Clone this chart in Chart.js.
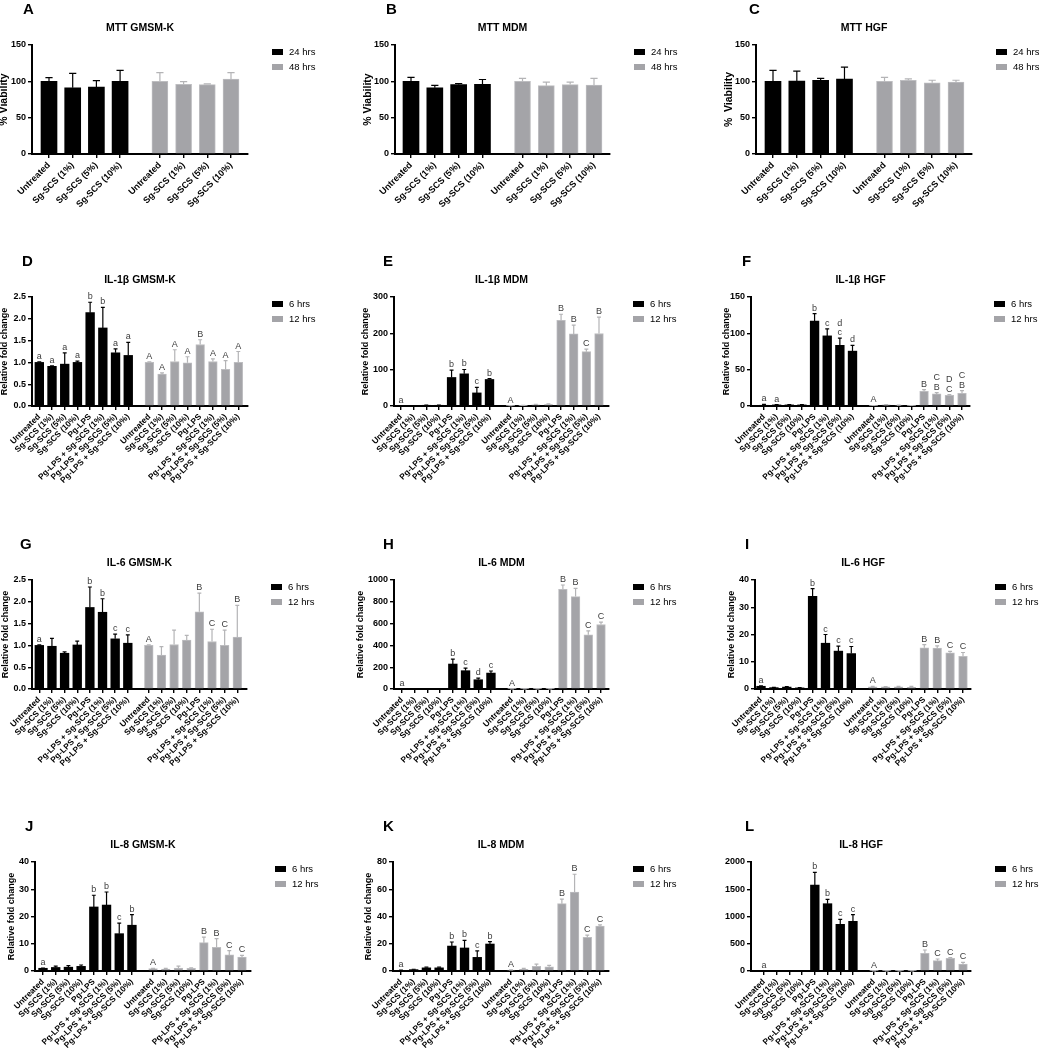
<!DOCTYPE html>
<html>
<head>
<meta charset="utf-8">
<script src="https://cdn.jsdelivr.net/npm/chart.js@4.4.1/dist/chart.umd.min.js"></script>
<style>
  html, body { margin: 0; padding: 0; background: #fff; }
  #fig { position: relative; width: 1039px; height: 1050px; overflow: hidden; background: #fff; }
  #fig canvas { position: absolute; }
</style>
</head>
<body>
<div id="fig"></div>
<script>
// --- categories / series names ---
const mttLabels = ['Untreated', 'Sg-SCS (1%)', 'Sg-SCS (5%)', 'Sg-SCS (10%)'];
const cytoLabels = ['Untreated', 'Sg-SCS (1%)', 'Sg-SCS (5%)', 'Sg-SCS (10%)', 'Pg-LPS',
  'Pg-LPS + Sg-SCS (1%)', 'Pg-LPS + Sg-SCS (5%)', 'Pg-LPS + Sg-SCS (10%)'];
const mttSeries = ['24 hrs', '48 hrs'];
const cytoSeries = ['6 hrs', '12 hrs'];

// --- A: MTT GMSM-K (mean, SD) ---
const mttGmsmk24h = [100, 91, 92, 100];
const mttGmsmk24hSd = [5, 20, 9, 15];
const mttGmsmk48h = [100, 96, 95.5, 103];
const mttGmsmk48hSd = [12, 3.5, 1, 9];

// --- B: MTT MDM ---
const mttMdm24h = [100, 91, 95.5, 96];
const mttMdm24hSd = [5.5, 3.5, 1.5, 6.5];
const mttMdm48h = [100, 94, 95.5, 95];
const mttMdm48hSd = [4, 5, 3.5, 9];

// --- C: MTT HGF ---
const mttHgf24h = [100, 100.5, 101.5, 103];
const mttHgf24hSd = [15, 13.5, 2.5, 16.5];
const mttHgf48h = [100, 101.5, 98, 99];
const mttHgf48hSd = [5.5, 2, 3.5, 2.5];

// --- D: IL-1b GMSM-K ---
const il1bGmsmk6h = [1.0, 0.91, 0.96, 1.0, 2.14, 1.79, 1.22, 1.16];
const il1bGmsmk6hSd = [0.01, 0.01, 0.26, 0.03, 0.24, 0.47, 0.09, 0.30];
const il1bGmsmk6hSig = ['a', 'a', 'a', 'a', 'b', 'b', 'a', 'a'];
const il1bGmsmk12h = [1.0, 0.73, 1.02, 0.99, 1.41, 1.02, 0.84, 1.0];
const il1bGmsmk12hSd = [0.01, 0.03, 0.27, 0.14, 0.11, 0.06, 0.2, 0.25];
const il1bGmsmk12hSig = ['A', 'A', 'A', 'A', 'B', 'A', 'A', 'A'];

// --- E: IL-1b MDM ---
const il1bMdm6h = [1, 0.6, 2, 2, 78.5, 88.5, 36, 73];
const il1bMdm6hSd = [0.3, 0.3, 0.8, 0.8, 20, 12, 15.5, 2.5];
const il1bMdm6hSig = ['a', '', '', '', 'b', 'b', 'c', 'b'];
const il1bMdm12h = [1, 1.2, 3.5, 4, 235.5, 198.5, 149.5, 199.5];
const il1bMdm12hSd = [0.3, 0.4, 1.2, 1.8, 17, 24, 7, 45];
const il1bMdm12hSig = ['A', '', '', '', 'B', 'B', 'C', 'B'];

// --- F: IL-1b HGF ---
const il1bHgf6h = [1, 1.5, 1.5, 1.5, 117, 96.5, 83.5, 75.5];
const il1bHgf6hSd = [1.2, 0.5, 0.5, 0.4, 10, 9.5, 10, 8];
const il1bHgf6hSig = ['a', 'a', '', '', 'b', 'c', 'd\nc', 'd'];
const il1bHgf12h = [0.5, 1.5, 1, 0.5, 20.3, 16.6, 14.8, 17.5];
const il1bHgf12hSd = [0.2, 0.4, 0.3, 0.2, 2.3, 1.9, 0.9, 3.7];
const il1bHgf12hSig = ['A', '', '', '', 'B', 'C\nB', 'D\nC', 'C\nB'];

// --- G: IL-6 GMSM-K ---
const il6Gmsmk6h = [1.0, 0.98, 0.82, 1.01, 1.87, 1.76, 1.15, 1.05];
const il6Gmsmk6hSd = [0.01, 0.18, 0.03, 0.09, 0.47, 0.31, 0.11, 0.19];
const il6Gmsmk6hSig = ['a', '', '', '', 'b', 'b', 'c', 'c'];
const il6Gmsmk12h = [1.0, 0.78, 1.02, 1.12, 1.77, 1.09, 1.0, 1.19];
const il6Gmsmk12hSd = [0.01, 0.19, 0.33, 0.11, 0.43, 0.28, 0.35, 0.73];
const il6Gmsmk12hSig = ['A', '', '', '', 'B', 'C', 'C', 'B'];

// --- H: IL-6 MDM ---
const il6Mdm6h = [1, 1, 1, 1, 229, 168, 85, 146];
const il6Mdm6hSd = [1, 1, 1, 1, 45, 24, 15, 19];
const il6Mdm6hSig = ['a', '', '', '', 'b', 'c', 'd', 'c'];
const il6Mdm12h = [1, 1, 1, 1, 915, 848, 497, 592];
const il6Mdm12hSd = [1, 1, 1, 1, 39, 76, 37, 21];
const il6Mdm12hSig = ['A', '', '', '', 'B', 'B', 'C', 'C'];

// --- I: IL-6 HGF ---
const il6Hgf6h = [1.0, 0.5, 0.7, 0.4, 34.0, 16.8, 13.9, 13.0];
const il6Hgf6hSd = [0.2, 0.1, 0.2, 0.1, 2.8, 3.2, 1.8, 2.6];
const il6Hgf6hSig = ['a', '', '', '', 'b', 'c', 'c', 'c'];
const il6Hgf12h = [0.8, 0.8, 0.8, 0.6, 15.1, 15.0, 13.3, 12.0];
const il6Hgf12hSd = [0.2, 0.1, 0.2, 0.4, 1.2, 0.8, 0.5, 1.4];
const il6Hgf12hSig = ['A', '', '', '', 'B', 'B', 'C', 'C'];

// --- J: IL-8 GMSM-K ---
const il8Gmsmk6h = [1.0, 1.3, 1.4, 1.7, 23.5, 24.2, 13.7, 16.8];
const il8Gmsmk6hSd = [0.1, 0.5, 0.6, 0.5, 4.3, 4.8, 3.9, 3.9];
const il8Gmsmk6hSig = ['a', '', '', '', 'b', 'b', 'c', 'b'];
const il8Gmsmk12h = [0.9, 0.7, 1.1, 1.0, 10.4, 8.7, 5.9, 5.1];
const il8Gmsmk12hSd = [0.1, 0.3, 0.7, 0.2, 2.0, 3.2, 1.6, 0.6];
const il8Gmsmk12hSig = ['A', '', '', '', 'B', 'B', 'C', 'C'];

// --- K: IL-8 MDM ---
const il8Mdm6h = [0.5, 1.0, 2.3, 2.3, 18.3, 16.9, 10.0, 19.8];
const il8Mdm6hSd = [0.2, 0.3, 0.5, 0.5, 3.0, 5.6, 4.7, 1.7];
const il8Mdm6hSig = ['a', '', '', '', 'b', 'b', 'c', 'b'];
const il8Mdm12h = [0.6, 1.3, 3.5, 3.1, 49.4, 58.0, 24.7, 33.0];
const il8Mdm12hSd = [0.2, 0.7, 1.5, 1.1, 3.4, 13, 1.7, 0.8];
const il8Mdm12hSig = ['A', '', '', '', 'B', 'B', 'C', 'C'];

// --- L: IL-8 HGF ---
const il8Hgf6h = [1, 1, 1, 1, 1578, 1235, 856, 911];
const il8Hgf6hSd = [1, 1, 1, 1, 232, 80, 92, 123];
const il8Hgf6hSig = ['a', '', '', '', 'b', 'b', 'c', 'c'];
const il8Hgf12h = [1, 1, 1, 1, 324, 190, 232, 128];
const il8Hgf12hSd = [1, 1, 1, 1, 61, 30, 13, 31];
const il8Hgf12hSig = ['A', '', '', '', 'B', 'C', 'C', 'C'];

const FONT = '"Liberation Sans", Arial, Helvetica, sans-serif';
const GREY = '#a4a4a8';

// panel layout: box = canvas [left, top, w, h], area = plot [left, top, right, bottom], bars = first/last bar centre
const panels = [
  { letter: 'A', letterX: 23, title: 'MTT GMSM-K', yTitle: '% Viability', yTitleX: 4, labels: mttLabels, series: mttSeries,
    v1: mttGmsmk24h, e1: mttGmsmk24hSd, v2: mttGmsmk48h, e2: mttGmsmk48hSd, yMax: 150, yStep: 50, dec: 0,
    box: [0, 0, 346, 240], area: [32, 45, 248, 154], bars: [49, 231] },
  { letter: 'B', letterX: 386, title: 'MTT MDM', yTitle: '% Viability', yTitleX: 368, labels: mttLabels, series: mttSeries,
    v1: mttMdm24h, e1: mttMdm24hSd, v2: mttMdm48h, e2: mttMdm48hSd, yMax: 150, yStep: 50, dec: 0,
    box: [346, 0, 346, 240], area: [395, 45, 610, 154], bars: [411, 594] },
  { letter: 'C', letterX: 749, title: 'MTT HGF', yTitle: '%  Viability', yTitleX: 729, labels: mttLabels, series: mttSeries,
    v1: mttHgf24h, e1: mttHgf24hSd, v2: mttHgf48h, e2: mttHgf48hSd, yMax: 150, yStep: 50, dec: 0,
    box: [692, 0, 347, 240], area: [756, 45, 972, 154], bars: [773, 956] },

  { letter: 'D', letterX: 22, title: 'IL-1β GMSM-K', yTitle: 'Relative fold change', yTitleX: 5, labels: cytoLabels, series: cytoSeries,
    v1: il1bGmsmk6h, e1: il1bGmsmk6hSd, s1: il1bGmsmk6hSig, v2: il1bGmsmk12h, e2: il1bGmsmk12hSd, s2: il1bGmsmk12hSig,
    yMax: 2.5, yStep: 0.5, dec: 1, box: [0, 240, 346, 260], area: [32, 297, 248, 406], bars: [39.3, 238.3] },
  { letter: 'E', letterX: 383, title: 'IL-1β MDM', yTitle: 'Relative fold change', yTitleX: 366, labels: cytoLabels, series: cytoSeries,
    v1: il1bMdm6h, e1: il1bMdm6hSd, s1: il1bMdm6hSig, v2: il1bMdm12h, e2: il1bMdm12hSd, s2: il1bMdm12hSig,
    yMax: 300, yStep: 100, dec: 0, box: [346, 240, 346, 260], area: [394, 297, 609, 406], bars: [401, 599] },
  { letter: 'F', letterX: 742, title: 'IL-1β HGF', yTitle: 'Relative fold change', yTitleX: 727, labels: cytoLabels, series: cytoSeries,
    v1: il1bHgf6h, e1: il1bHgf6hSd, s1: il1bHgf6hSig, v2: il1bHgf12h, e2: il1bHgf12hSd, s2: il1bHgf12hSig,
    yMax: 150, yStep: 50, dec: 0, box: [692, 240, 347, 260], area: [751, 297, 970, 406], bars: [764, 962] },

  { letter: 'G', letterX: 20, title: 'IL-6 GMSM-K', yTitle: 'Relative fold change', yTitleX: 6, labels: cytoLabels, series: cytoSeries,
    v1: il6Gmsmk6h, e1: il6Gmsmk6hSd, s1: il6Gmsmk6hSig, v2: il6Gmsmk12h, e2: il6Gmsmk12hSd, s2: il6Gmsmk12hSig,
    yMax: 2.5, yStep: 0.5, dec: 1, box: [0, 500, 346, 268], area: [32, 580, 247, 689], bars: [39.3, 237.3] },
  { letter: 'H', letterX: 383, title: 'IL-6 MDM', yTitle: 'Relative fold change', yTitleX: 361, labels: cytoLabels, series: cytoSeries,
    v1: il6Mdm6h, e1: il6Mdm6hSd, s1: il6Mdm6hSig, v2: il6Mdm12h, e2: il6Mdm12hSd, s2: il6Mdm12hSig,
    yMax: 1000, yStep: 200, dec: 0, box: [346, 500, 346, 268], area: [394, 580, 609, 689], bars: [402, 601] },
  { letter: 'I', letterX: 745, title: 'IL-6 HGF', yTitle: 'Relative fold change', yTitleX: 732, labels: cytoLabels, series: cytoSeries,
    v1: il6Hgf6h, e1: il6Hgf6hSd, s1: il6Hgf6hSig, v2: il6Hgf12h, e2: il6Hgf12hSd, s2: il6Hgf12hSig,
    yMax: 40, yStep: 10, dec: 0, box: [692, 500, 347, 268], area: [755, 580, 971, 689], bars: [761, 963] },

  { letter: 'J', letterX: 25, title: 'IL-8 GMSM-K', yTitle: 'Relative fold change', yTitleX: 12, labels: cytoLabels, series: cytoSeries,
    v1: il8Gmsmk6h, e1: il8Gmsmk6hSd, s1: il8Gmsmk6hSig, v2: il8Gmsmk12h, e2: il8Gmsmk12hSd, s2: il8Gmsmk12hSig,
    yMax: 40, yStep: 10, dec: 0, box: [0, 760, 346, 290], area: [35, 862, 251, 971], bars: [43, 242] },
  { letter: 'K', letterX: 383, title: 'IL-8 MDM', yTitle: 'Relative fold change', yTitleX: 369, labels: cytoLabels, series: cytoSeries,
    v1: il8Mdm6h, e1: il8Mdm6hSd, s1: il8Mdm6hSig, v2: il8Mdm12h, e2: il8Mdm12hSd, s2: il8Mdm12hSig,
    yMax: 80, yStep: 20, dec: 0, box: [346, 760, 346, 290], area: [393, 862, 609, 971], bars: [401, 600] },
  { letter: 'L', letterX: 745, title: 'IL-8 HGF', yTitle: '', yTitleX: 0, labels: cytoLabels, series: cytoSeries,
    v1: il8Hgf6h, e1: il8Hgf6hSd, s1: il8Hgf6hSig, v2: il8Hgf12h, e2: il8Hgf12hSd, s2: il8Hgf12hSig,
    yMax: 2000, yStep: 500, dec: 0, box: [692, 760, 347, 290], area: [751, 862, 971, 971], bars: [764, 963] }
];

// error bars (mean + SD, upward only) and significance letters
const errorBarPlugin = {
  id: 'errorBars',
  afterDatasetsDraw(chart) {
    const ctx = chart.ctx;
    const yScale = chart.scales.y;
    chart.data.datasets.forEach((ds, di) => {
      const meta = chart.getDatasetMeta(di);
      meta.data.forEach((bar, i) => {
        const top = yScale.getPixelForValue(ds.data[i].y + ds.sd[i]);
        const half = ds.capWidth / 2;
        ctx.save();
        ctx.strokeStyle = ds.errColor;
        ctx.lineWidth = 1.2;
        ctx.beginPath();
        ctx.moveTo(bar.x, bar.y);
        ctx.lineTo(bar.x, top);
        ctx.moveTo(bar.x - half, top);
        ctx.lineTo(bar.x + half, top);
        ctx.stroke();
        const sig = ds.sig ? ds.sig[i] : '';
        if (sig) {
          ctx.fillStyle = '#3c3c3c';
          ctx.font = '9px ' + FONT;
          ctx.textAlign = 'center';
          ctx.textBaseline = 'alphabetic';
          sig.split('\n').reverse().forEach((s, k) => ctx.fillText(s, bar.x, top - 3 - k * 9.5));
        }
        ctx.restore();
      });
    });
  }
};

// panel letter + legend on the right
const decorPlugin = {
  id: 'decor',
  afterDraw(chart, args, opts) {
    const { ctx, chartArea } = chart;
    ctx.save();
    ctx.fillStyle = '#000';
    ctx.font = 'bold 15px ' + FONT;
    ctx.textAlign = 'left';
    ctx.textBaseline = 'alphabetic';
    ctx.fillText(opts.letter, opts.letterX, chartArea.top - 31.5);
    ctx.font = '9.5px ' + FONT;
    ctx.textBaseline = 'middle';
    chart.data.datasets.forEach((ds, i) => {
      const x = chartArea.right + 24;
      const y = chartArea.top + 7 + i * 15;
      ctx.fillStyle = ds.backgroundColor;
      ctx.fillRect(x, y - 3, 11, 6);
      ctx.fillStyle = '#000';
      ctx.fillText(ds.label, x + 17, y);
    });
    ctx.restore();
  }
};

const fig = document.getElementById('fig');

panels.forEach(p => {
  const [cx, cy, cw, ch] = p.box;
  const [L, T, R, B] = p.area;
  const canvas = document.createElement('canvas');
  canvas.width = cw;
  canvas.height = ch;
  canvas.style.left = cx + 'px';
  canvas.style.top = cy + 'px';
  fig.appendChild(canvas);

  const n = p.labels.length;
  const big = n === 4;
  const gap = big ? 1.68 : 1.66;
  const pos1 = p.labels.map((_, i) => i);
  const pos2 = p.labels.map((_, i) => n - 1 + gap + i);
  const lastPos = pos2[n - 1];
  const slot = (p.bars[1] - p.bars[0]) / lastPos;
  const xMin = -(p.bars[0] - L) / slot;
  const xMax = lastPos + (R - p.bars[1]) / slot;
  const tickPos = pos1.concat(pos2);
  const tickText = p.labels.concat(p.labels);
  const thick = big ? 16 : 8.7;

  const titleSize = 10.5;
  const titleLH = titleSize * 1.2;
  const tPadTop = (T - 17 - cy) - titleLH / 2;
  const tPadBottom = (T - cy) - tPadTop - titleLH;
  const yTitleSize = big ? 10.5 : 9;

  new Chart(canvas, {
    type: 'bar',
    data: {
      datasets: [
        {
          label: p.series[0],
          data: pos1.map((x, i) => ({ x: x, y: p.v1[i] })),
          sd: p.e1, sig: p.s1,
          backgroundColor: '#000000', borderWidth: 0,
          errColor: '#000000', capWidth: thick * 0.45,
          barThickness: thick, grouped: false
        },
        {
          label: p.series[1],
          data: pos2.map((x, i) => ({ x: x, y: p.v2[i] })),
          sd: p.e2, sig: p.s2,
          backgroundColor: GREY, borderColor: '#bdbdc0', borderWidth: 1,
          errColor: '#b4b4b6', capWidth: thick * 0.45,
          barThickness: thick, grouped: false
        }
      ]
    },
    options: {
      responsive: false,
      animation: false,
      devicePixelRatio: 1,
      layout: { padding: { left: 0, top: 0, right: cw - (R - cx), bottom: 0 } },
      plugins: {
        legend: { display: false },
        tooltip: { enabled: false },
        title: {
          display: true, text: p.title, color: '#000', fullSize: false,
          font: { family: FONT, size: titleSize, weight: 'bold', lineHeight: 1.2 },
          padding: { top: tPadTop, bottom: tPadBottom }
        },
        decor: { letter: p.letter, letterX: p.letterX - cx }
      },
      scales: {
        x: {
          type: 'linear', min: xMin, max: xMax, offset: false,
          afterBuildTicks: s => { s.ticks = tickPos.map(v => ({ value: v })); },
          afterFit: s => { s.height = cy + ch - B; },
          ticks: {
            autoSkip: false, minRotation: 45, maxRotation: 45, padding: 2, color: '#000',
            font: { family: FONT, size: big ? 9 : 8.3, weight: 'bold' },
            callback: (v, i) => tickText[i]
          },
          grid: { drawOnChartArea: false, drawTicks: true, tickLength: 4, color: '#000', lineWidth: 1.4, offset: false },
          border: { display: true, color: '#000', width: 2 }
        },
        y: {
          min: 0, max: p.yMax,
          afterFit: s => { s.width = L - cx; },
          ticks: {
            stepSize: p.yStep, padding: 2, color: '#000',
            font: { family: FONT, size: 9, weight: 'bold' },
            callback: v => Number(v).toFixed(p.dec)
          },
          grid: { drawOnChartArea: false, drawTicks: true, tickLength: 4, color: '#000', lineWidth: 1.4 },
          border: { display: true, color: '#000', width: 2 },
          title: {
            display: !!p.yTitle, text: p.yTitle, color: '#000',
            font: { family: FONT, size: yTitleSize, weight: 'bold', lineHeight: 1.2 },
            padding: { top: (p.yTitleX - cx) - yTitleSize * 0.6, bottom: 0 }
          }
        }
      }
    },
    plugins: [errorBarPlugin, decorPlugin]
  });
});
</script>
</body>
</html>
